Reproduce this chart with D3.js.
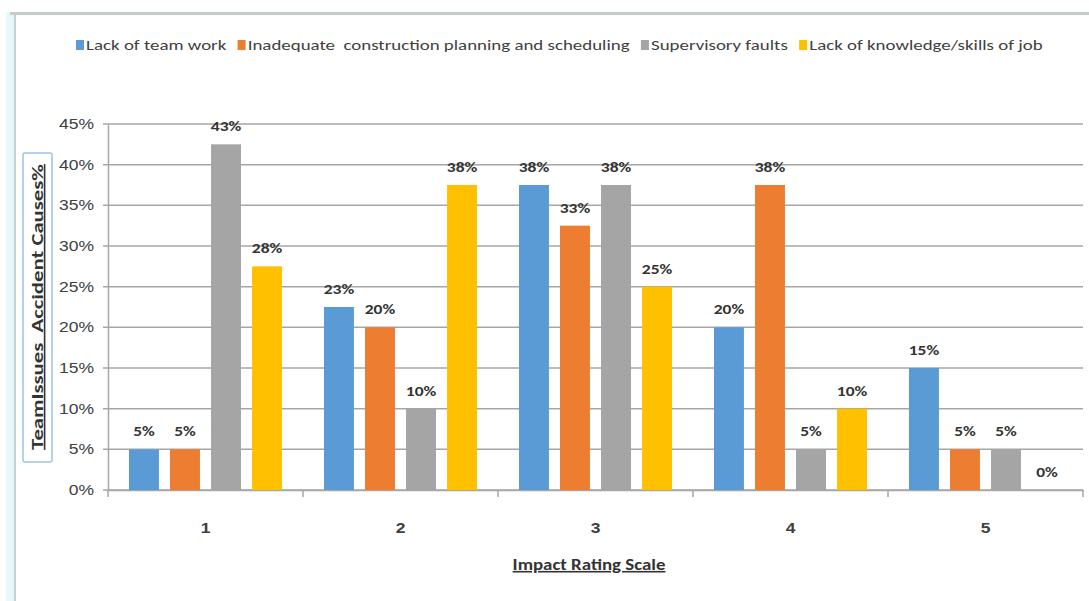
<!DOCTYPE html>
<html>
<head>
<meta charset="utf-8">
<script src="https://cdn.jsdelivr.net/npm/d3@7"></script>
<style>
  body { margin: 0; background: #fff; }
  svg { font-family: Carlito, Lato, "Open Sans", sans-serif; }
</style>
</head>
<body>
<svg id="chart" width="1089" height="601"></svg>
<script>
// categories (impact rating) and series
const ratings = ["1", "2", "3", "4", "5"];
const seriesNames = ["Lack of team work", "Inadequate  construction planning and scheduling", "Supervisory faults", "Lack of knowledge/skills of job"];
const colors = ["#5B9BD5", "#ED7D31", "#A5A5A5", "#FFC000"];

// % values per series, one per rating
const teamWork = [5, 22.5, 37.5, 20, 15];
const planning = [5, 20, 32.5, 37.5, 5];
const supervisory = [42.5, 10, 37.5, 5, 5];
const knowledge = [27.5, 37.5, 25, 10, 0];

const yTicks = [0, 5, 10, 15, 20, 25, 30, 35, 40, 45];

const seriesValues = [teamWork, planning, supervisory, knowledge];
let data = [];
ratings.forEach((r, i) => {
  seriesNames.forEach((s, j) => {
    data.push({rating: r, series: s, idx: j, value: seriesValues[j][i]});
  });
});

// the source picture is stretched sideways, so text is widened too
const stretch = 1.25;

const svg = d3.select('#chart');

// window edge of the screenshot: cyan strip on the left, gray line on top
svg.append('rect')
  .attr('x', 6).attr('y', 12)
  .attr('width', 9).attr('height', 600)
  .attr('fill', '#e6f8fa');
svg.append('line')
  .attr('x1', 15).attr('x2', 15).attr('y1', 12).attr('y2', 601)
  .attr('stroke', '#b9c4c6').attr('stroke-width', 1.5);
svg.append('line')
  .attr('x1', 10).attr('x2', 1089).attr('y1', 13.5).attr('y2', 13.5)
  .attr('stroke', '#c6cccc').attr('stroke-width', 3);

const plotLeft = 108, plotRight = 1083, plotTop = 124, plotBottom = 490;

const x0 = d3.scaleBand().domain(ratings).range([plotLeft, plotRight]);
const x1 = d3.scaleBand().domain(seriesNames)
  .range([21, x0.bandwidth() - 21])
  .paddingInner(0.27);
const y = d3.scaleLinear().domain([0, 45]).range([plotBottom, plotTop]);

// gridlines
svg.append('g')
  .selectAll('line')
  .data(yTicks)
  .enter()
  .append('line')
    .attr('x1', plotLeft - 5)
    .attr('x2', plotRight)
    .attr('y1', d => y(d))
    .attr('y2', d => y(d))
    .attr('stroke', '#a6a6a6')
    .attr('stroke-width', 1.5);

// y axis
const yAxis = d3.axisLeft(y).tickValues(yTicks).tickFormat(d => d + '%').tickSize(0).tickPadding(0);
const yAxisGroup = svg.append('g')
  .attr('transform', `translate(${plotLeft},0)`)
  .call(yAxis);
yAxisGroup.select('.domain').attr('stroke', '#a6a6a6').attr('stroke-width', 1.5);
yAxisGroup.selectAll('text')
  .attr('x', null)
  .attr('transform', `translate(-14,0) scale(${stretch},1)`)
  .attr('font-size', 14).attr('fill', '#404040').style('font-family', 'inherit');

// x axis
const xAxis = d3.axisBottom(x0).tickSize(0).tickPadding(0);
const xAxisGroup = svg.append('g')
  .attr('transform', `translate(0,${plotBottom})`)
  .call(xAxis);
xAxisGroup.select('.domain').attr('stroke', '#a6a6a6').attr('stroke-width', 1.5);
xAxisGroup.selectAll('text')
  .attr('y', null)
  .attr('dy', null)
  .attr('transform', `translate(0,43) scale(${stretch},1)`)
  .attr('font-size', 14).attr('font-weight', 'bold').attr('fill', '#404040').style('font-family', 'inherit');

// category boundary ticks
svg.append('g')
  .selectAll('line')
  .data(ratings.concat(['end']))
  .enter()
  .append('line')
    .attr('x1', (d, i) => plotLeft + i * x0.step())
    .attr('x2', (d, i) => plotLeft + i * x0.step())
    .attr('y1', plotBottom)
    .attr('y2', plotBottom + 7)
    .attr('stroke', '#a6a6a6')
    .attr('stroke-width', 1.5);

// bars
svg.append('g')
  .selectAll('rect')
  .data(data)
  .enter()
  .append('rect')
    .attr('x', d => x0(d.rating) + x1(d.series))
    .attr('y', d => y(d.value))
    .attr('width', x1.bandwidth())
    .attr('height', d => y(0) - y(d.value))
    .attr('fill', d => colors[d.idx]);

// value labels
svg.append('g')
  .selectAll('text')
  .data(data)
  .enter()
  .append('text')
    .attr('transform', d => `translate(${x0(d.rating) + x1(d.series) + x1.bandwidth() / 2},${y(d.value) - 13}) scale(${stretch},1)`)
    .attr('text-anchor', 'middle')
    .attr('font-size', 14)
    .attr('font-weight', 'bold')
    .attr('fill', '#333')
    .text(d => Math.round(d.value) + '%');

// legend
const legendStretch = 1.26;
const legend = svg.append('g').attr('transform', `translate(76,45) scale(${legendStretch},1)`);
let lx = 0;
seriesNames.forEach((s, i) => {
  const g = legend.append('g').attr('transform', `translate(${lx},0)`);
  g.append('rect').attr('x', 0).attr('y', -5).attr('width', 8 / legendStretch).attr('height', 10).attr('fill', colors[i]);
  const t = g.append('text')
    .attr('x', 8).attr('y', 0)
    .attr('dy', '0.35em')
    .attr('font-size', 15)
    .attr('fill', '#404040')
    .style('white-space', 'pre')
    .text(s);
  lx += 8 + t.node().getComputedTextLength() + 9;
});

// x axis title
svg.append('text')
  .attr('transform', `translate(589,570) scale(1.18,1)`)
  .attr('text-anchor', 'middle')
  .attr('font-size', 16)
  .attr('font-weight', 'bold')
  .attr('fill', '#333')
  .attr('text-decoration', 'underline')
  .text('Impact Rating Scale');

// y axis title with box
svg.append('rect')
  .attr('x', 23).attr('y', 153)
  .attr('width', 29).attr('height', 309)
  .attr('rx', 2)
  .attr('fill', 'none')
  .attr('stroke', '#9dc3e6')
  .attr('stroke-width', 1.5);
svg.append('text')
  .attr('transform', 'translate(43,307) rotate(-90) scale(1.42,1)')
  .attr('text-anchor', 'middle')
  .attr('font-size', 16)
  .attr('font-weight', 'bold')
  .attr('fill', '#333')
  .attr('text-decoration', 'underline')
  .style('white-space', 'pre')
  .text('TeamIssues  Accident Causes%');
</script>
</body>
</html>
